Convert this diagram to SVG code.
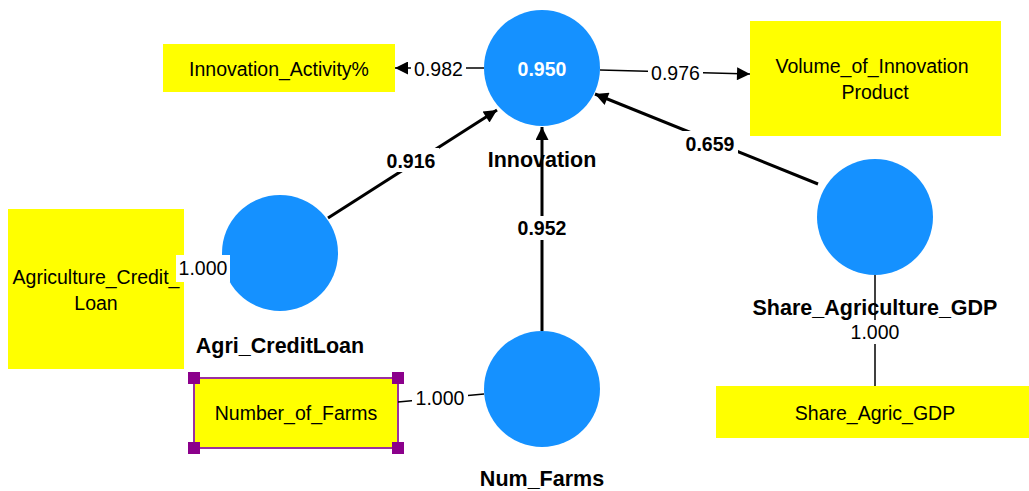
<svg xmlns="http://www.w3.org/2000/svg" width="1029" height="491" viewBox="0 0 1029 491">
<style>
text{font-family:"Liberation Sans",Arial,sans-serif;text-anchor:middle;fill:#000}
.lv{fill:#1591FF}
.ind{fill:#FFFF00}
.nm{font-size:19.5px}
.bl{font-size:21.5px;font-weight:bold}
.el{font-size:19.5px;font-weight:bold}
.ml{font-size:19.5px}
.bg{fill:#fff}
.s{stroke:#000;stroke-width:3;fill:none}
.m{stroke:#000;stroke-width:1.5;fill:none}
.h{fill:#8B008B}
</style>
<defs>
<marker id="a" viewBox="0 0 10 10" refX="10" refY="5" markerWidth="15" markerHeight="13" markerUnits="userSpaceOnUse" orient="auto"><path d="M0,0L10,5L0,10z" fill="#000"/></marker>
</defs>
<g id="n-activity"><rect class="ind" x="163" y="44" width="232" height="48"/><text class="nm" x="279" y="76">Innovation_Activity%</text></g>
<g id="n-volume"><rect class="ind" x="750" y="21" width="251" height="115"/><text class="nm" x="872" y="73">Volume_of_Innovation</text><text class="nm" x="875" y="99">Product</text></g>
<g id="n-aclbox"><rect class="ind" x="8" y="209" width="176" height="160"/><text class="nm" x="96" y="284">Agriculture_Credit_</text><text class="nm" x="96" y="310">Loan</text></g>
<g id="n-farmsbox"><rect class="ind" x="194" y="378" width="204" height="70" stroke="#9B30A0" stroke-width="2"/><text class="nm" x="296" y="420">Number_of_Farms</text>
<rect class="h" x="188" y="372" width="12" height="12"/><rect class="h" x="392" y="372" width="12" height="12"/><rect class="h" x="188" y="442" width="12" height="12"/><rect class="h" x="392" y="442" width="12" height="12"/></g>
<g id="n-sagbox"><rect class="ind" x="716" y="386" width="313" height="52"/><text class="nm" x="875" y="420">Share_Agric_GDP</text></g>
<g id="n-innovation"><circle class="lv" cx="542" cy="68" r="58"/><text class="bl" x="542" y="167">Innovation</text><text x="542" y="76" style="font-size:19.5px;font-weight:bold;fill:#fff">0.950</text></g>
<g id="n-agri"><circle class="lv" cx="280" cy="253" r="58"/><text class="bl" x="280" y="353">Agri_CreditLoan</text></g>
<g id="n-numfarms"><circle class="lv" cx="542" cy="389" r="58"/><text class="bl" x="542" y="486">Num_Farms</text></g>
<g id="n-share"><circle class="lv" cx="875" cy="217" r="58"/><text class="bl" x="875" y="315">Share_Agriculture_GDP</text></g>
<g id="connectors">
<line class="m" x1="484" y1="68" x2="395" y2="68" marker-end="url(#a)"/>
<rect class="bg" x="411" y="57" width="55" height="24"/><text class="ml" x="438.5" y="76">0.982</text>
<line class="m" x1="600" y1="70" x2="750" y2="74" marker-end="url(#a)"/>
<rect class="bg" x="648" y="61" width="55" height="24"/><text class="ml" x="675.5" y="80">0.976</text>
<line class="s" x1="328" y1="218" x2="497" y2="110" marker-end="url(#a)"/>
<rect class="bg" x="383" y="148" width="56" height="24"/><text class="el" x="411" y="168">0.916</text>
<line class="s" x1="818" y1="184" x2="595" y2="94" marker-end="url(#a)"/>
<rect class="bg" x="682" y="131" width="56" height="24"/><text class="el" x="710" y="151">0.659</text>
<line class="s" x1="542" y1="331" x2="542" y2="127" marker-end="url(#a)"/>
<rect class="bg" x="514" y="216" width="56" height="24"/><text class="el" x="542" y="235">0.952</text>
<line class="m" x1="184" y1="268" x2="222" y2="268"/>
<rect class="bg" x="176" y="255" width="54" height="27"/><text class="ml" x="203" y="275">1.000</text>
<line class="m" x1="398" y1="402" x2="484" y2="394"/>
<rect class="bg" x="412" y="386" width="56" height="24"/><text class="ml" x="440" y="405">1.000</text>
<line class="m" x1="875" y1="275" x2="875" y2="386"/>
<rect class="bg" x="847" y="320" width="56" height="24"/><text class="ml" x="875" y="339">1.000</text>
</g>
</svg>
